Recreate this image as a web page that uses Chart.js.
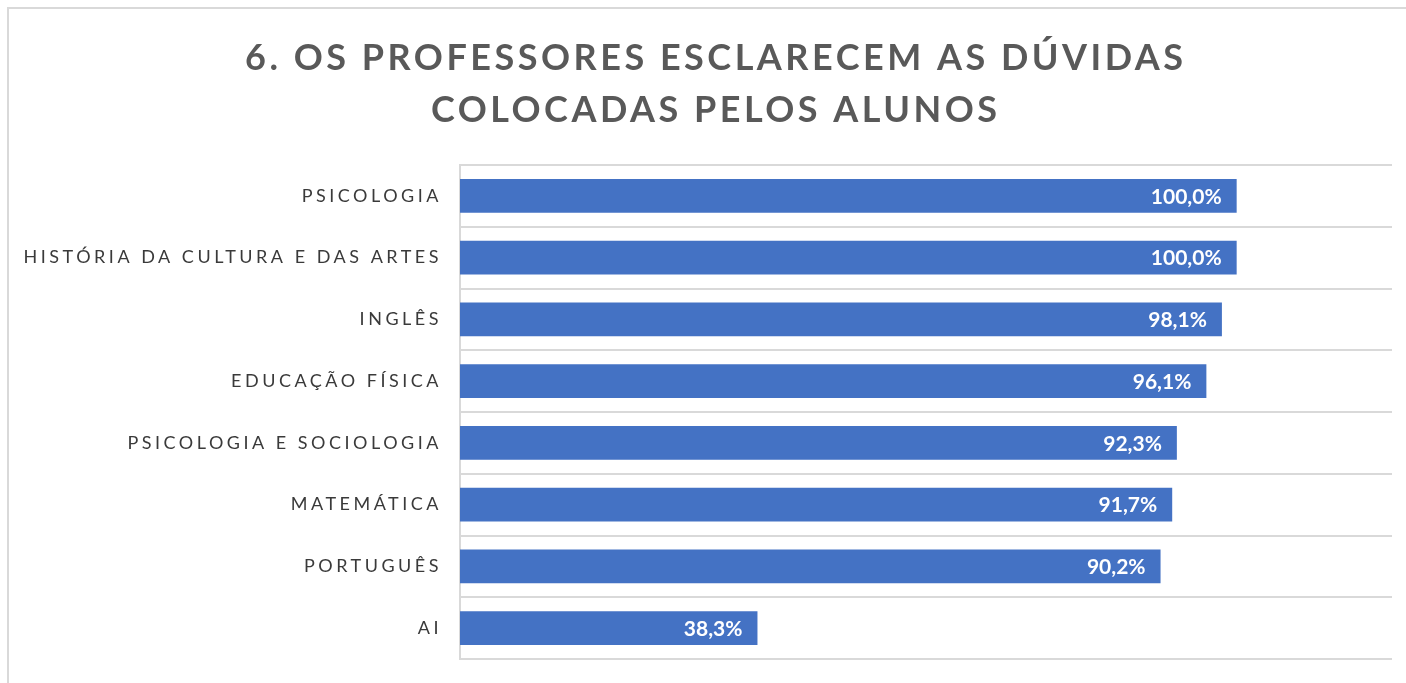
<!DOCTYPE html>
<html><head><meta charset="utf-8">
<script src="https://cdn.jsdelivr.net/npm/chart.js@4/dist/chart.umd.min.js"></script>
<style>
html,body{margin:0;padding:0;background:#fff;}
#wrap{position:relative;width:1406px;height:683px;overflow:hidden;}
#frame{position:absolute;left:7px;top:7px;width:1420px;height:700px;border-left:2px solid #d9d9d9;border-top:2px solid #d9d9d9;}
canvas{position:absolute;left:0;top:0;}
</style></head>
<body><div id="wrap"><div id="frame"></div><canvas id="c" width="1406" height="683"></canvas></div>
<script>
const titleLines = ['6. OS PROFESSORES ESCLARECEM AS DÚVIDAS', 'COLOCADAS PELOS ALUNOS'];
const categories = ['PSICOLOGIA', 'HISTÓRIA DA CULTURA E DAS ARTES', 'INGLÊS', 'EDUCAÇÃO FÍSICA', 'PSICOLOGIA E SOCIOLOGIA', 'MATEMÁTICA', 'PORTUGUÊS', 'AI'];
const values = [100.0, 100.0, 98.1, 96.1, 92.3, 91.7, 90.2, 38.3];
const axisMin = 0;
const axisMax = 120;

const fmt = v => v.toFixed(1).replace('.', ',') + '%';
const TICK_FONT = '18px Lato';

const titlePlugin = {
  id: 'titleText',
  afterDraw(chart) {
    const ctx = chart.ctx;
    ctx.save();
    ctx.letterSpacing = '0px';
    ctx.font = 'bold 36px Lato';
    const w0 = ctx.measureText(titleLines[0]).width;
    const sp = (938 - w0) / (titleLines[0].length - 1);
    ctx.fillStyle = '#595959';
    ctx.textAlign = 'left';
    ctx.textBaseline = 'alphabetic';
    const baselines = [70, 122];
    titleLines.forEach((line, i) => {
      ctx.letterSpacing = '0px';
      const w = ctx.measureText(line).width + sp * (line.length - 1);
      ctx.letterSpacing = sp + 'px';
      ctx.fillText(line, 714 - w / 2, baselines[i]);
    });
    ctx.restore();
  }
};

const spacingPlugin = {
  id: 'tickSpacing',
  beforeDraw(chart) {
    const ctx = chart.ctx;
    ctx.letterSpacing = '0px';
    ctx.font = TICK_FONT;
    const longest = categories[1];
    const w = ctx.measureText(longest).width;
    const sp = (415 - w) / (longest.length - 1);
    ctx.letterSpacing = sp + 'px';
  }
};

const labelPlugin = {
  id: 'barLabels',
  afterDatasetsDraw(chart) {
    const ctx = chart.ctx;
    const meta = chart.getDatasetMeta(0);
    ctx.save();
    ctx.letterSpacing = '0px';
    ctx.font = 'bold 21px Lato';
    ctx.fillStyle = '#ffffff';
    ctx.textAlign = 'right';
    ctx.textBaseline = 'middle';
    meta.data.forEach((el, i) => {
      ctx.fillText(fmt(values[i]), el.x - 15, el.y + 1);
    });
    ctx.restore();
  }
};

new Chart(document.getElementById('c'), {
  type: 'bar',
  data: {
    labels: categories,
    datasets: [{
      data: values,
      backgroundColor: '#4472c4',
      borderWidth: 0,
      barPercentage: 0.55,
      categoryPercentage: 1.0
    }]
  },
  options: {
    indexAxis: 'y',
    responsive: false,
    animation: false,
    layout: { padding: { top: 165, left: 22, right: 14, bottom: 24 } },
    plugins: { legend: { display: false }, title: { display: false }, tooltip: { enabled: false } },
    scales: {
      x: { display: false, min: axisMin, max: axisMax, grid: { display: false } },
      y: {
        grid: { color: '#d9d9d9', lineWidth: 2, drawTicks: false, offset: true },
        border: { color: '#d9d9d9', width: 2 },
        ticks: { color: '#3a3a3a', font: { family: 'Lato', size: 18 }, padding: 18 },
        afterFit(scale) { scale.width = 438; scale.paddingTop = 0; scale.paddingBottom = 0; }
      }
    }
  },
  plugins: [spacingPlugin, labelPlugin, titlePlugin]
});
</script>
</body></html>
